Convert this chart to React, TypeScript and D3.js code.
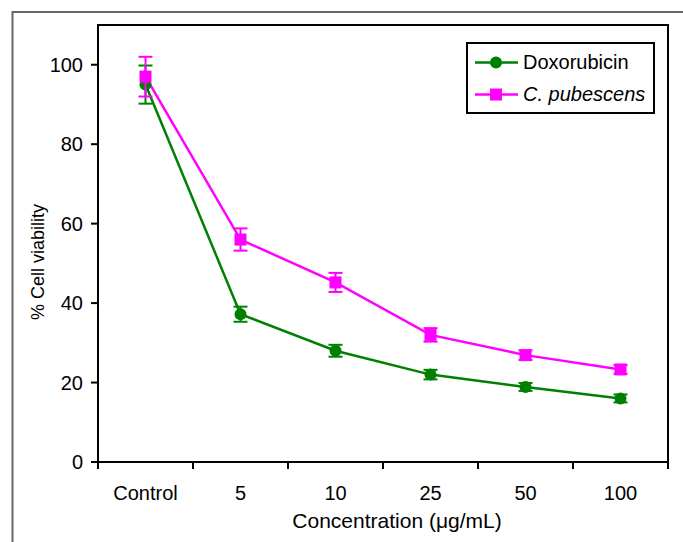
import React from "react";
import * as d3 from "d3";

const categories = ["Control", "5", "10", "25", "50", "100"];
const doxValues = [95, 37.2, 28, 22, 18.9, 16];
const doxErrors = [4.8, 1.9, 1.5, 1.2, 1, 1];
const cpValues = [97, 56, 45.2, 32, 26.9, 23.3];
const cpErrors = [5, 2.8, 2.4, 1.7, 1.2, 1.1];
const yTicks = [0, 20, 40, 60, 80, 100];

const W = 683, H = 542;
const L = 98, R = 668, T = 25, B = 462;
const GREEN = "#008000";
const MAG = "#ff00ff";
const FONT = "'Liberation Sans', Arial, sans-serif";

export default function App() {
  const x = d3.scaleBand<string>().domain(categories).range([L, R]).padding(0);
  const y = d3.scaleLinear().domain([0, 110]).range([B, T]);
  const cx = (c: string) => (x(c) as number) + x.bandwidth() / 2;
  const line = d3.line<number>().x((_, i) => cx(categories[i])).y((v) => y(v));
  const bounds = categories.map((c) => x(c) as number).concat([R]);

  const errBars = (vals: number[], errs: number[], color: string) =>
    vals.map((v, i) => {
      const px = cx(categories[i]);
      const y1 = y(v + errs[i]);
      const y2 = y(v - errs[i]);
      return (
        <g key={i} stroke={color} strokeWidth={2}>
          <line x1={px} x2={px} y1={y1} y2={y2} />
          <line x1={px - 7} x2={px + 7} y1={y1} y2={y1} />
          <line x1={px - 7} x2={px + 7} y1={y2} y2={y2} />
        </g>
      );
    });

  return (
    <svg width={W} height={H} style={{ position: "absolute", left: 0, top: 0 }} fontFamily={FONT}>
      <rect x={0} y={0} width={W} height={H} fill="#fff" />
      <rect x={12.5} y={12} width={700} height={600} fill="none" stroke="#666" strokeWidth={2} />
      <rect x={L} y={T} width={R - L} height={B - T} fill="none" stroke="#000" strokeWidth={2} />
      {yTicks.map((t) => (
        <g key={t}>
          <line x1={L - 7} x2={L} y1={y(t)} y2={y(t)} stroke="#000" strokeWidth={2} />
          <text x={L - 15} y={y(t)} dy="0.35em" textAnchor="end" fontSize={20} fill="#000">{t}</text>
        </g>
      ))}
      {bounds.map((b, i) => (
        <line key={i} x1={b} x2={b} y1={B} y2={B + 7} stroke="#000" strokeWidth={2} />
      ))}
      {categories.map((c) => (
        <text key={c} x={cx(c)} y={500} textAnchor="middle" fontSize={20} fill="#000">{c}</text>
      ))}
      <text x={397} y={528} textAnchor="middle" fontSize={21} fill="#000">Concentration (μg/mL)</text>
      <text transform={`translate(44,262) rotate(-90)`} textAnchor="middle" fontSize={18} fill="#000">% Cell viability</text>

      <path d={line(doxValues) as string} fill="none" stroke={GREEN} strokeWidth={2.5} />
      <path d={line(cpValues) as string} fill="none" stroke={MAG} strokeWidth={2.5} />
      {errBars(doxValues, doxErrors, GREEN)}
      {doxValues.map((v, i) => (
        <circle key={i} cx={cx(categories[i])} cy={y(v)} r={6} fill={GREEN} />
      ))}
      {errBars(cpValues, cpErrors, MAG)}
      {cpValues.map((v, i) => (
        <rect key={i} x={cx(categories[i]) - 6} y={y(v) - 6} width={12} height={12} fill={MAG} />
      ))}

      <rect x={467} y={43} width={187} height={70} fill="#fff" stroke="#000" strokeWidth={2} />
      <line x1={475} x2={518} y1={62.5} y2={62.5} stroke={GREEN} strokeWidth={2.5} />
      <circle cx={496} cy={62.5} r={6} fill={GREEN} />
      <text x={523} y={69} fontSize={20} fill="#000">Doxorubicin</text>
      <line x1={475} x2={518} y1={94.5} y2={94.5} stroke={MAG} strokeWidth={2.5} />
      <rect x={490} y={88.5} width={12} height={12} fill={MAG} />
      <text x={523} y={101} fontSize={20} fill="#000"><tspan fontStyle="italic">C. pubescens</tspan></text>
    </svg>
  );
}
